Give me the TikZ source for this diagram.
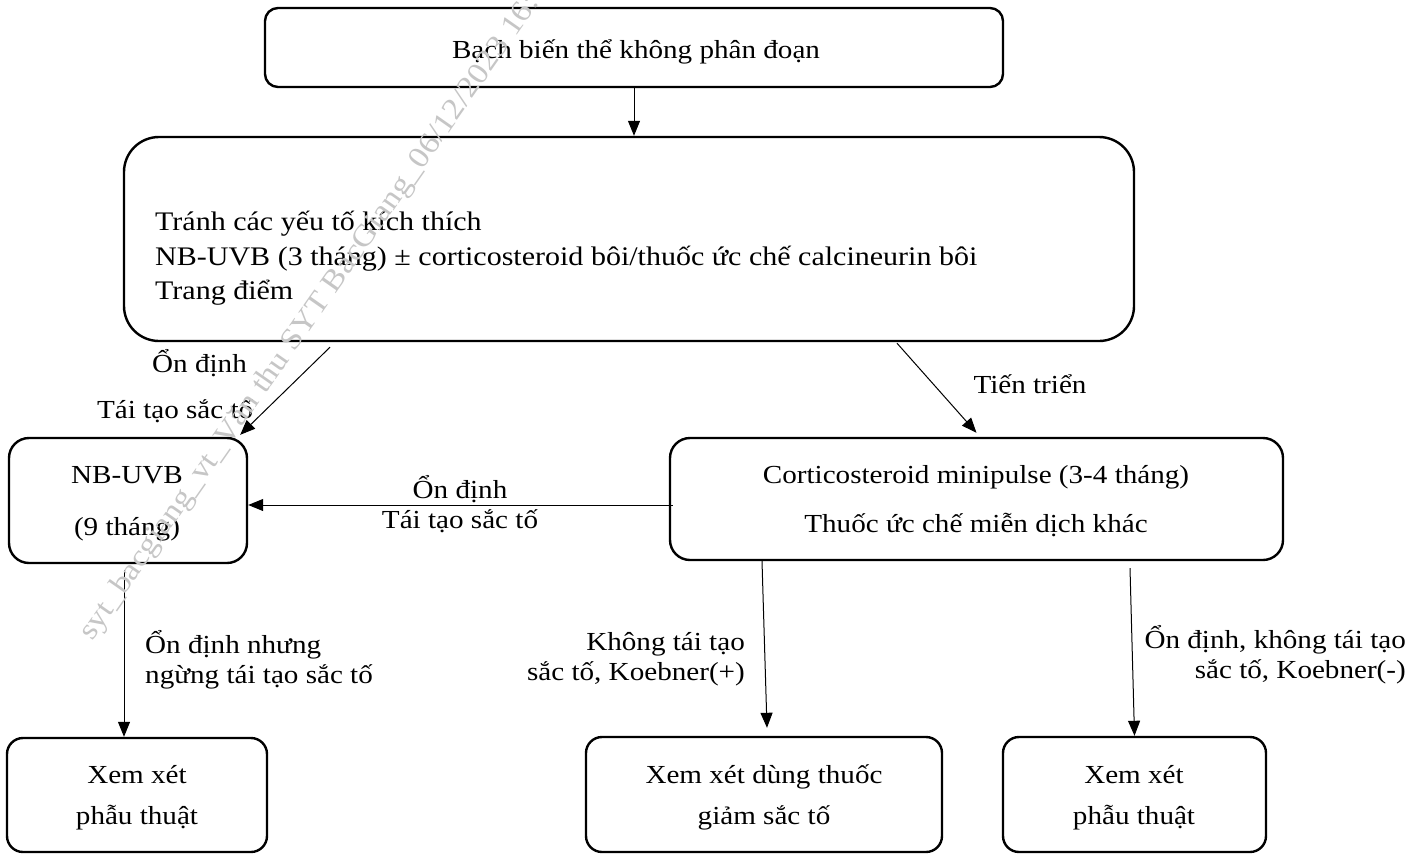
\documentclass[tikz,border=0pt]{standalone}
\usepackage{fontspec}
\setmainfont{Liberation Serif}[FakeStretch=1.12]
\usetikzlibrary{arrows.meta}
\begin{document}
\begin{tikzpicture}[x=1pt,y=-1pt,
  box/.style={draw, line width=2.4pt, rounded corners=#1, inner sep=0pt},
  txt/.style={inner sep=0pt, anchor=base, font=\fontsize{26}{30}\selectfont},
  txtw/.style={txt, anchor=base west},
  txte/.style={txt, anchor=base east},
  bigtxt/.style={txtw, font=\fontsize{26.8}{31}\selectfont},
  arr/.style={line width=1pt, -{Triangle[length=15pt,width=12pt]}},
  wmark/.style={inner sep=0pt, anchor=base west, rotate=55, text=gray!45,
                font=\fontsize{30}{34}\selectfont}
]
\useasboundingbox (0,0) rectangle (1424,854);
\fill[white] (0,0) rectangle (1424,854);

% boxes
\node[box=13pt, minimum width=738pt, minimum height=79pt] (top) at (634,47.5) {};
\node[box=35pt, minimum width=1010pt, minimum height=204pt] (big) at (629,239) {};
\node[box=20pt, minimum width=238pt, minimum height=125pt] (nbuvb) at (128,500.5) {};
\node[box=20pt, minimum width=613pt, minimum height=122pt] (cortico) at (976.5,499) {};
\node[box=16pt, minimum width=260pt, minimum height=114pt] (surgL) at (137,795) {};
\node[box=16pt, minimum width=356pt, minimum height=115pt] (depig) at (764,794.5) {};
\node[box=16pt, minimum width=263pt, minimum height=115pt] (surgR) at (1134.5,794.5) {};

% box texts
\node[txt] (t1) at (636,58) {Bạch biến thể không phân đoạn};
\node[bigtxt] (b1) at (155,230) {Tránh các yếu tố kích thích};
\node[bigtxt] (b2) at (155,265) {NB-UVB (3 tháng) ± corticosteroid bôi/thuốc ức chế calcineurin bôi};
\node[bigtxt] (b3) at (155,299) {Trang điểm};
\node[txt] (n1) at (127,483) {NB-UVB};
\node[txt] (n2) at (127,535) {(9 tháng)};
\node[txt] (c1) at (976,483) {Corticosteroid minipulse (3-4 tháng)};
\node[txt] (c2) at (976,532) {Thuốc ức chế miễn dịch khác};
\node[txt] (sl1) at (137,783) {Xem xét};
\node[txt] (sl2) at (137,824) {phẫu thuật};
\node[txt] (d1) at (764,783) {Xem xét dùng thuốc};
\node[txt] (d2) at (764,824) {giảm sắc tố};
\node[txt] (sr1) at (1134,783) {Xem xét};
\node[txt] (sr2) at (1134,824) {phẫu thuật};

% connectors
\draw[arr] (top.south) -- (top.south |- big.north);
\draw[arr] ([xshift=-299pt,yshift=-5pt]big.south) -- ([xshift=-8pt,yshift=2pt]nbuvb.north east);
\draw[arr] ([xshift=268pt,yshift=-1pt]big.south) -- ([yshift=4pt]cortico.north);
\draw[arr] ([xshift=4pt,yshift=-6pt]cortico.west) coordinate (hs) -- (hs -| nbuvb.east);
\draw[arr] ([xshift=-4pt,yshift=-6pt]nbuvb.south) coordinate (vs) -- (vs |- surgL.north);
\draw[arr] ([xshift=-214.5pt]cortico.south) -- ([xshift=3pt,yshift=8pt]depig.north);
\draw[arr] ([xshift=153.5pt,yshift=-7pt]cortico.south) -- (surgR.north);

% connector labels
\node[txtw] (l1) at (152,372) {Ổn định};
\node[txtw] (l2) at (97,418) {Tái tạo sắc tố};
\node[txt] (l3) at (1030,393) {Tiến triển};
\node[txt] (l4) at (460,498) {Ổn định};
\node[txt] (l5) at (460,528) {Tái tạo sắc tố};
\node[txtw] (l6) at (145,653) {Ổn định nhưng};
\node[txtw] (l7) at (145,683) {ngừng tái tạo sắc tố};
\node[txte] (l8) at (745,650) {Không tái tạo};
\node[txte] (l9) at (745,680) {sắc tố, Koebner(+)};
\node[txte] (l10) at (1406,648) {Ổn định, không tái tạo};
\node[txte] (l11) at (1406,678) {sắc tố, Koebner(-)};

% watermark
\begin{scope}
\clip (0,0) rectangle (1424,854);
\node[wmark] (wm) at (92,642) {syt\_bacgiang\_vt\_Văn thu SYT BacGiang\_06/12/2023 16:52};
\end{scope}
\end{tikzpicture}
\end{document}
